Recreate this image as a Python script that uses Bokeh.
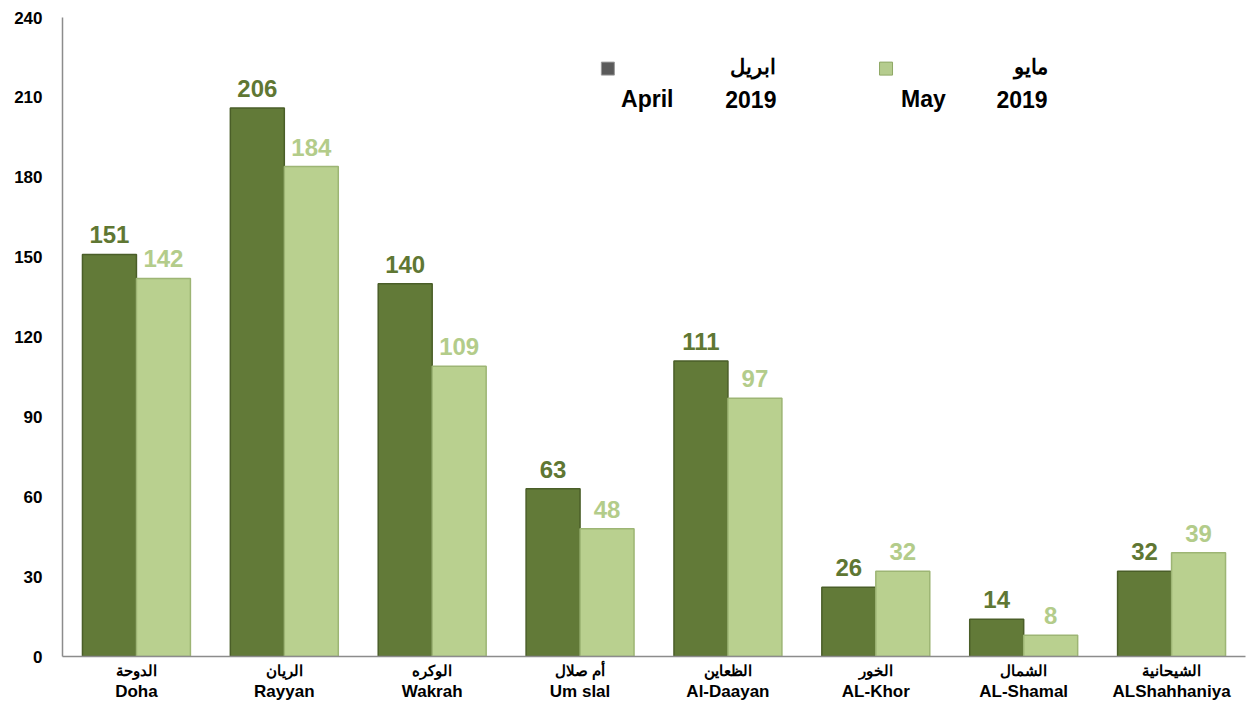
from bokeh.plotting import figure
from bokeh.models import (FactorRange, CategoricalAxis, LinearAxis, Range1d,
                          ColumnDataSource, FixedTicker, Label)
from bokeh.transform import dodge
from bokeh.core.properties import value
from bokeh.embed import file_html
from bokeh.resources import INLINE

# ---- data ----
cats_en = ["Doha", "Rayyan", "Wakrah", "Um slal", "Al-Daayan", "AL-Khor", "AL-Shamal", "ALShahhaniya"]
cats_ar = ["الدوحة", "الريان", "الوكره", "أم صلال", "الظعاين", "الخور", "الشمال", "الشيحانية"]
april = [151, 206, 140, 63, 111, 26, 14, 32]
may = [142, 184, 109, 48, 97, 32, 8, 39]
y_ticks = [0, 30, 60, 90, 120, 150, 180, 210, 240]

FONT = "Liberation Sans"
DARK = "#627a38"
DARK_LINE = "#4a5e28"
LIGHT = "#b9d08f"
LIGHT_LINE = "#9db574"
DARK_TXT = "#5f7733"
LIGHT_TXT = "#b3cc8a"

src = ColumnDataSource(dict(
    x=cats_en, april=april, may=may,
    april_s=[str(v) for v in april], may_s=[str(v) for v in may],
))

p = figure(width=1248, height=711,
           x_range=FactorRange(*cats_en), y_range=Range1d(0, 240),
           output_backend="svg", toolbar_location=None,
           x_axis_location=None, y_axis_location=None,
           min_border_left=62, min_border_top=17, min_border_right=3, min_border_bottom=55)
p.outline_line_color = None
p.xgrid.visible = False
p.ygrid.visible = False
p.background_fill_color = "white"

p.extra_x_ranges = {"ar": FactorRange(*cats_ar)}

yax = LinearAxis(ticker=FixedTicker(ticks=y_ticks))
yax.axis_line_color = "#8c8c8c"
yax.axis_line_width = 1.5
yax.major_tick_line_color = None
yax.minor_tick_line_color = None
yax.major_label_text_font = FONT
yax.major_label_text_font_style = "bold"
yax.major_label_text_font_size = "17px"
yax.major_label_text_color = "black"
yax.major_label_standoff = 14
p.add_layout(yax, "left")

ax_ar = CategoricalAxis(x_range_name="ar")
ax_ar.axis_line_color = "#8c8c8c"
ax_ar.axis_line_width = 1.5
ax_ar.major_tick_line_color = None
ax_ar.minor_tick_line_color = None
ax_ar.major_tick_out = 0
ax_ar.major_label_standoff = 5
ax_ar.major_label_text_font = FONT
ax_ar.major_label_text_font_style = "bold"
ax_ar.major_label_text_font_size = "15px"
ax_ar.major_label_text_color = "black"
p.add_layout(ax_ar, "below")

ax_en = CategoricalAxis()
ax_en.axis_line_color = None
ax_en.major_tick_line_color = None
ax_en.minor_tick_line_color = None
ax_en.major_tick_out = 0
ax_en.major_label_standoff = 0
ax_en.major_label_text_font = FONT
ax_en.major_label_text_font_style = "bold"
ax_en.major_label_text_font_size = "17px"
ax_en.major_label_text_color = "black"
p.add_layout(ax_en, "below")

W = 0.365
D = 0.1825
p.vbar(x=dodge("x", -D, range=p.x_range), top="april", width=W, source=src,
       fill_color=DARK, line_color=DARK_LINE, line_width=1.5)
p.vbar(x=dodge("x", D, range=p.x_range), top="may", width=W, source=src,
       fill_color=LIGHT, line_color=LIGHT_LINE, line_width=1.5)

p.text(x=dodge("x", -D, range=p.x_range), y="april", text="april_s", source=src,
       text_align="center", text_baseline="bottom", y_offset=-11,
       text_font=value(FONT), text_font_style="bold", text_font_size="24px",
       text_color=DARK_TXT)
p.text(x=dodge("x", D, range=p.x_range), y="may", text="may_s", source=src,
       text_align="center", text_baseline="bottom", y_offset=-11,
       text_font=value(FONT), text_font_style="bold", text_font_size="24px",
       text_color=LIGHT_TXT)

# ---- legend (custom layout) ----
p.scatter(x=[3.688], y=[220.8], marker="square", size=13,
          fill_color="#5a5a5a", line_color="#9a9a9a", line_width=1)
p.scatter(x=[5.569], y=[220.8], marker="square", size=13,
          fill_color="#b5cc8e", line_color="#8fa866", line_width=1)

def lab(x, y, t, align, size):
    p.add_layout(Label(x=x, y=y, text=t, text_align=align, text_baseline="middle",
                       text_font=FONT, text_font_style="bold",
                       text_font_size=size, text_color="black"))

lab(4.828, 221.5, "ابريل", "right", "21px")
lab(3.777, 209.3, "April", "left", "23px")
lab(4.828, 209.3, "2019", "right", "23px")
lab(6.662, 221.5, "مايو", "right", "21px")
lab(5.671, 209.3, "May", "left", "23px")
lab(6.662, 209.3, "2019", "right", "23px")

open("out.html", "w").write(file_html(p, INLINE))
